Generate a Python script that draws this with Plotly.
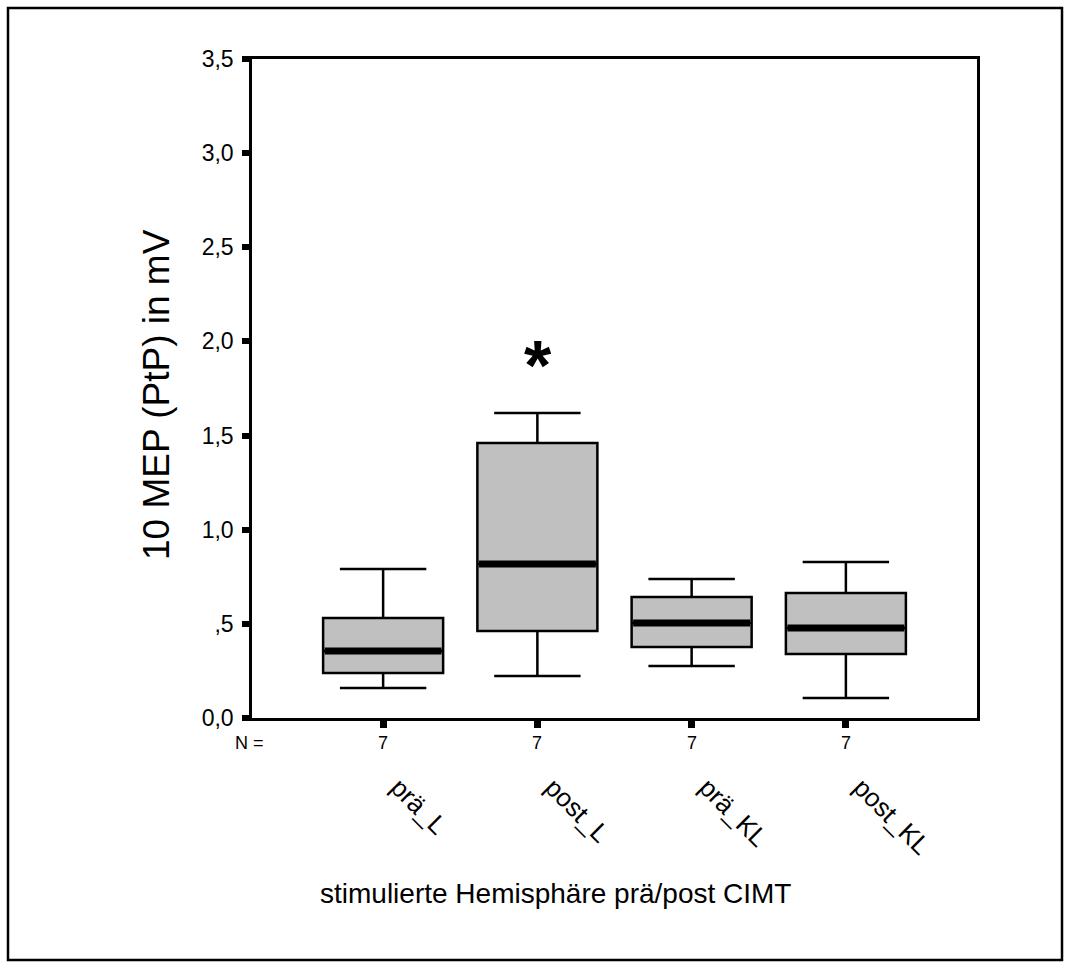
import plotly.graph_objects as go

categories = ["prä_L", "post_L", "prä_KL", "post_KL"]
lower_whisker = [0.159, 0.223, 0.276, 0.106]
q1_values = [0.239, 0.462, 0.377, 0.340]
median_values = [0.356, 0.818, 0.505, 0.478]
q3_values = [0.531, 1.460, 0.643, 0.664]
upper_whisker = [0.791, 1.620, 0.738, 0.828]
n_values = [7, 7, 7, 7]
y_tickvals = [0.0, 0.5, 1.0, 1.5, 2.0, 2.5, 3.0, 3.5]
y_ticktext = ["0,0", ",5", "1,0", "1,5", "2,0", "2,5", "3,0", "3,5"]
significant = ["post_L"]

positions = list(range(len(categories)))
box_width = 0.778
FONT = "Liberation Sans, Arial, sans-serif"

W, H = 1075, 972
L, R, T, B = 252, 98, 59, 254
pw, ph = W - L - R, H - T - B

def px_to_paper_x(px):
    return (px - L) / pw

def px_to_paper_y(py):
    return (H - B - py) / ph

fig = go.Figure()
fig.add_trace(go.Box(
    x=positions,
    q1=q1_values, median=median_values, q3=q3_values,
    lowerfence=lower_whisker, upperfence=upper_whisker,
    width=box_width, whiskerwidth=0.72,
    fillcolor="#c0c0c0",
    line=dict(color="black", width=2.5),
    boxpoints=False, showlegend=False,
))

# thick median bars
for p, m in zip(positions, median_values):
    fig.add_trace(go.Scatter(
        x=[p - box_width / 2 + 0.01, p + box_width / 2 - 0.01], y=[m, m],
        mode="lines", line=dict(color="black", width=7),
        showlegend=False, hoverinfo="skip",
    ))

annotations = []
# significance asterisk
for cat in significant:
    i = categories.index(cat)
    annotations.append(dict(
        x=positions[i], y=upper_whisker[i], xref="x", yref="y",
        text="<b>*</b>", showarrow=False, yanchor="bottom",
        yshift=6, xshift=1, font=dict(family=FONT, size=70, color="black"),
    ))

# N row
annotations.append(dict(
    x=px_to_paper_x(266), y=px_to_paper_y(743), xref="paper", yref="paper",
    text="N =", showarrow=False, xanchor="right", yanchor="middle",
    font=dict(family=FONT, size=18, color="black"),
))
for p, n in zip(positions, n_values):
    annotations.append(dict(
        x=p, y=px_to_paper_y(743), xref="x", yref="paper",
        text=str(n), showarrow=False, xanchor="center", yanchor="middle",
        font=dict(family=FONT, size=18, color="black"),
    ))

# axis titles
annotations.append(dict(
    x=px_to_paper_x(555), y=px_to_paper_y(893), xref="paper", yref="paper",
    text="stimulierte Hemisphäre prä/post CIMT", showarrow=False,
    xanchor="center", yanchor="middle",
    font=dict(family=FONT, size=28, color="black"),
))
annotations.append(dict(
    x=px_to_paper_x(156), y=px_to_paper_y(395), xref="paper", yref="paper",
    text="10 MEP (PtP) in mV", showarrow=False, textangle=-90,
    xanchor="center", yanchor="middle",
    font=dict(family=FONT, size=37, color="black"),
))

fig.update_layout(
    width=W, height=H,
    margin=dict(l=L, r=R, t=T, b=B),
    paper_bgcolor="white", plot_bgcolor="white",
    annotations=annotations,
    shapes=[dict(
        type="rect", xref="paper", yref="paper",
        x0=px_to_paper_x(8), x1=px_to_paper_x(1062),
        y0=px_to_paper_y(960), y1=px_to_paper_y(8),
        line=dict(color="black", width=2.5), fillcolor="rgba(0,0,0,0)",
        layer="below",
    )],
)
fig.update_xaxes(
    range=[-0.85, 3.85], tickvals=positions, ticktext=categories,
    tickangle=45, ticks="outside", ticklen=7, tickwidth=7, tickcolor="black",
    showline=True, linecolor="black", linewidth=2.5, mirror=True,
    showgrid=False, zeroline=False, ticklabelstandoff=34, ticklabelshift=15,
    tickfont=dict(family=FONT, size=26, color="black"),
)
fig.update_yaxes(
    range=[0, 3.5], tickvals=y_tickvals, ticktext=y_ticktext,
    ticks="outside", ticklen=7, tickwidth=6, tickcolor="black",
    showline=True, linecolor="black", linewidth=2.5, mirror=True,
    showgrid=False, zeroline=False, ticklabelstandoff=4,
    tickfont=dict(family=FONT, size=23, color="black"),
)

fig.write_html("out.html")
